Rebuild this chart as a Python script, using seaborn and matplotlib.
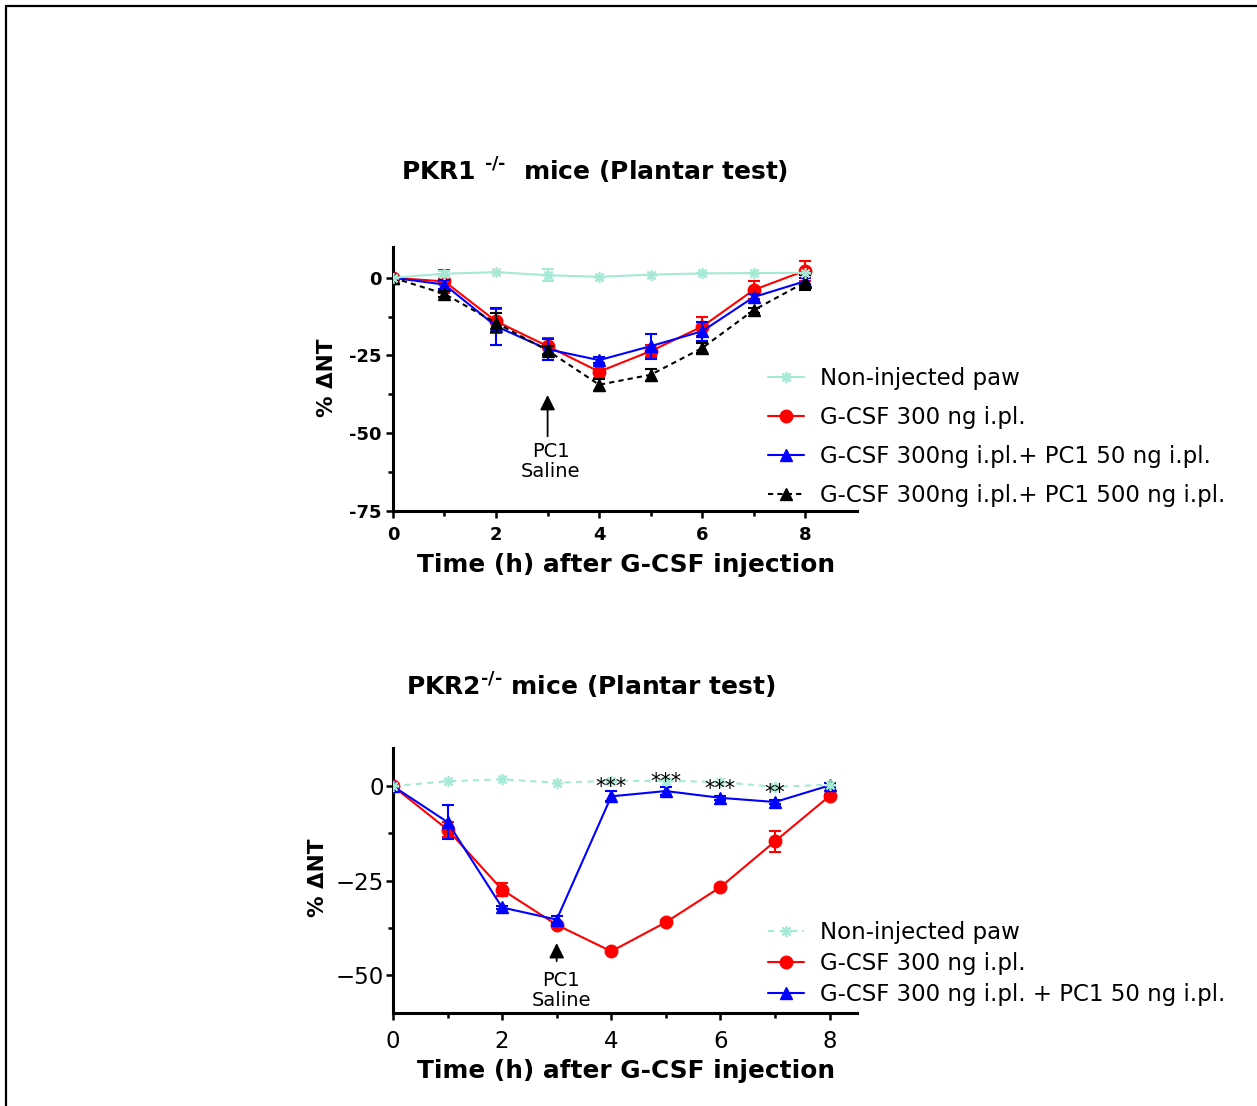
import matplotlib
matplotlib.use("Agg")
import matplotlib.pyplot as plt
from matplotlib.lines import Line2D
from matplotlib.ticker import FixedLocator
import seaborn as sns

# ---------------------------------------------------
# DATA (% change of nociceptive threshold)
# ---------------------------------------------------

hours = [0, 1, 2, 3, 4, 5, 6, 7, 8]

# PKR1 -/- mice
pkr1_noninj = [0, 1.3, 1.8, 0.8, 0.3, 1.0, 1.4, 1.5, 1.6]
pkr1_noninj_err = [0, 1.0, 0, 2.0, 0, 0, 0, 0, 0]
pkr1_gcsf = [0, -1.2, -14.0, -22.0, -30.2, -23.6, -15.7, -3.9, 2.3]
pkr1_gcsf_err = [0, 3.6, 3.8, 2.6, 2.0, 2.0, 3.0, 3.0, 3.2]
pkr1_pc1_50 = [0, -2.2, -15.6, -23.0, -26.5, -22.0, -17.2, -6.2, -1.1]
pkr1_pc1_50_err = [0, 1.5, 5.9, 3.3, 1.0, 4.0, 3.0, 1.0, 1.0]
pkr1_pc1_500 = [0, -5.2, -14.5, -23.4, -34.4, -31.2, -22.6, -10.4, -1.4]
pkr1_pc1_500_err = [0, 1.0, 3.0, 1.5, 1.9, 2.0, 1.5, 0.8, 2.4]

# PKR2 -/- mice
pkr2_noninj = [0, 1.3, 1.8, 0.9, 1.4, 1.4, 1.1, -0.2, 0.4]
pkr2_gcsf = [0, -11.5, -27.4, -36.7, -43.7, -36.0, -26.7, -14.6, -2.6]
pkr2_gcsf_err = [0, 2.0, 1.7, 0.5, 0.5, 0.5, 0.5, 2.8, 0.5]
pkr2_pc1_50 = [0, -9.5, -32.1, -35.3, -2.7, -1.3, -3.1, -4.2, 0.2]
pkr2_pc1_50_err = [0, 4.5, 0.5, 1.0, 1.3, 1.0, 0.5, 0.5, 0.5]

sig_hours = [4, 5, 6, 7]
sig_marks = ["***", "***", "***", "**"]

labels_pkr1 = ["Non-injected paw", "G-CSF 300 ng i.pl.",
               "G-CSF 300ng i.pl.+ PC1 50 ng i.pl.",
               "G-CSF 300ng i.pl.+ PC1 500 ng i.pl."]
labels_pkr2 = ["Non-injected paw", "G-CSF 300 ng i.pl.",
               "G-CSF 300 ng i.pl. + PC1 50 ng i.pl."]

top_yticks = [0, -25, -50, -75]
top_yticklabels = ["0", "-25", "-50", "-75"]
bottom_yticks = [0, -25, -50]
bottom_yticklabels = ["0", "\u221225", "\u221250"]
xticks = [0, 2, 4, 6, 8]

MINT = "#a6e9d5"
RED = "#ff0000"
BLUE = "#0000ff"
BLACK = "#000000"
STAR = (8, 2, 0)

sns.set_theme(style="ticks")
plt.rcParams["font.family"] = ["DejaVu Sans"]
plt.rcParams["mathtext.fontset"] = "dejavusans"
plt.rcParams["text.color"] = "black"
plt.rcParams["axes.labelcolor"] = "black"
plt.rcParams["xtick.color"] = "black"
plt.rcParams["ytick.color"] = "black"
plt.rcParams["legend.labelcolor"] = "black"


def draw_series(ax, y, err, color, marker, ls, label, z, ms=9, mew=1.0):
    sns.lineplot(x=hours, y=y, ax=ax, color=color, marker=marker,
                 markersize=ms, markeredgecolor=color, markeredgewidth=mew,
                 linestyle=ls, linewidth=1.5, label=label, zorder=z,
                 errorbar=None)
    if err is not None:
        ax.errorbar(hours, y, yerr=err, fmt="none", ecolor=color,
                    elinewidth=1.5, capsize=4.5, capthick=1.5, zorder=z)


def style_axes(ax):
    for s in ["top", "right"]:
        ax.spines[s].set_visible(False)
    for s in ["left", "bottom"]:
        ax.spines[s].set_linewidth(2.2)
        ax.spines[s].set_color("black")
    ax.tick_params(which="major", direction="out", length=5, width=1.8,
                   color="black", labelcolor="black")
    ax.tick_params(which="minor", direction="out", length=3.5, width=1.8,
                   color="black")
    ax.set_xlabel("")
    ax.set_ylabel("")


fig = plt.figure(figsize=(12.57, 11.06), dpi=100)

# ---------------------------------------------------
# PKR1 -/-
# ---------------------------------------------------

ax1 = fig.add_axes([0.3126, 0.5380, 0.3691, 0.2390])

draw_series(ax1, pkr1_gcsf, pkr1_gcsf_err, RED, "o", "-", labels_pkr1[1], 3)
draw_series(ax1, pkr1_pc1_50, pkr1_pc1_50_err, BLUE, "^", "-", labels_pkr1[2], 4)
draw_series(ax1, pkr1_pc1_500, pkr1_pc1_500_err, BLACK, "^", (0, (2.5, 2)),
            labels_pkr1[3], 5)
draw_series(ax1, pkr1_noninj, pkr1_noninj_err, MINT, STAR, "-",
            labels_pkr1[0], 6, ms=8, mew=1.2)

ax1.set_xlim(0, 9)
ax1.set_ylim(-75, 10)
style_axes(ax1)
ax1.xaxis.set_major_locator(FixedLocator(xticks))
ax1.xaxis.set_minor_locator(FixedLocator([1, 3, 5, 7]))
ax1.yaxis.set_major_locator(FixedLocator(top_yticks))
ax1.yaxis.set_minor_locator(FixedLocator([-12.5, -37.5, -62.5]))
ax1.set_yticklabels(top_yticklabels)
ax1.set_xticklabels([str(t) for t in xticks])
ax1.tick_params(axis="x", pad=6)
ax1.tick_params(axis="y", pad=3)
for lab in ax1.get_xticklabels() + ax1.get_yticklabels():
    lab.set_fontsize(13)
    lab.set_fontweight("bold")

ax1.annotate("", xy=(3, -37.7), xytext=(3, -51),
             arrowprops=dict(arrowstyle="-|>,head_length=0.6,head_width=0.3",
                             color="black", lw=1.3, mutation_scale=15,
                             shrinkA=0, shrinkB=0))
ax1.text(3.06, -59.2, "PC1\nSaline", ha="center", va="center", fontsize=14,
         linespacing=1.05)

h, l = ax1.get_legend_handles_labels()
hd = dict(zip(l, h))
ax1.legend([hd[k] for k in labels_pkr1], labels_pkr1, loc="upper left",
           bbox_to_anchor=(0.611, 0.668), bbox_transform=fig.transFigure,
           frameon=False, fontsize=16.5, handlelength=1.55, handletextpad=0.72,
           labelspacing=0.69, borderpad=0, borderaxespad=0)

fig.text(0.4733, 0.8454, "PKR1 $^{\\mathbf{\u2010/\u2010}}$  mice (Plantar test)",
         ha="center", va="center", fontsize=18, fontweight="bold")
fig.text(626 / 1257, 1 - 565 / 1106, "Time (h) after G-CSF injection",
         ha="center", va="center", fontsize=17.8, fontweight="bold")
fig.text(327 / 1257, 1 - 378 / 1106, "% \u0394NT", ha="center", va="center",
         rotation=90, fontsize=15.5, fontweight="bold")

# ---------------------------------------------------
# PKR2 -/-
# ---------------------------------------------------

ax2 = fig.add_axes([0.3126, 0.0841, 0.3691, 0.2393])

draw_series(ax2, pkr2_gcsf, pkr2_gcsf_err, RED, "o", "-", labels_pkr2[1], 3)
draw_series(ax2, pkr2_pc1_50, pkr2_pc1_50_err, BLUE, "^", "-", labels_pkr2[2], 4)
draw_series(ax2, pkr2_noninj, None, MINT, STAR, (0, (3, 2.5)),
            labels_pkr2[0], 6, ms=8, mew=1.2)

for hr, mark in zip(sig_hours, sig_marks):
    ax2.text(hr, pkr2_pc1_50[hours.index(hr)] + 0.8, mark, ha="center",
             va="baseline", fontsize=15, zorder=7)

ax2.set_xlim(0, 8.5)
ax2.set_ylim(-60, 10)
style_axes(ax2)
ax2.xaxis.set_major_locator(FixedLocator(xticks))
ax2.xaxis.set_minor_locator(FixedLocator([1, 3, 5, 7]))
ax2.yaxis.set_major_locator(FixedLocator(bottom_yticks))
ax2.yaxis.set_minor_locator(FixedLocator([-12.5, -37.5]))
ax2.set_yticklabels(bottom_yticklabels)
ax2.set_xticklabels([str(t) for t in xticks])
ax2.tick_params(axis="x", pad=7)
ax2.tick_params(axis="y", pad=1.5)
for lab in ax2.get_xticklabels() + ax2.get_yticklabels():
    lab.set_fontsize(16.5)

ax2.annotate("", xy=(3, -41.5), xytext=(3, -46.3),
             arrowprops=dict(arrowstyle="-|>,head_length=0.6,head_width=0.3",
                             color="black", lw=1.3, mutation_scale=15,
                             shrinkA=0, shrinkB=0))
ax2.text(3.08, -54.0, "PC1\nSaline", ha="center", va="center", fontsize=14,
         linespacing=1.05)

h, l = ax2.get_legend_handles_labels()
hd = dict(zip(l, h))
ax2.legend([hd[k] for k in labels_pkr2], labels_pkr2, loc="upper left",
           bbox_to_anchor=(0.611, 1 - 921 / 1106),
           bbox_transform=fig.transFigure, frameon=False, fontsize=16.5,
           handlelength=1.55, handletextpad=0.72, labelspacing=0.35,
           borderpad=0, borderaxespad=0)

fig.text(591 / 1257, 1 - 686 / 1106, "PKR2$^{\\mathbf{\u2010/\u2010}}$ mice (Plantar test)",
         ha="center", va="center", fontsize=18, fontweight="bold")
fig.text(626 / 1257, 1 - 1071 / 1106, "Time (h) after G-CSF injection",
         ha="center", va="center", fontsize=17.8, fontweight="bold")
fig.text(318 / 1257, 1 - 878 / 1106, "% \u0394NT", ha="center", va="center",
         rotation=90, fontsize=15.5, fontweight="bold")

# frame round the figure (left and top edges only)
fig.add_artist(Line2D([0.0048, 0.0048], [0, 0.9946], transform=fig.transFigure,
                      color="black", lw=1.6))
fig.add_artist(Line2D([0.0048, 1.0], [0.9946, 0.9946], transform=fig.transFigure,
                      color="black", lw=1.6))

fig.savefig("out.png", dpi=100, facecolor="white")
